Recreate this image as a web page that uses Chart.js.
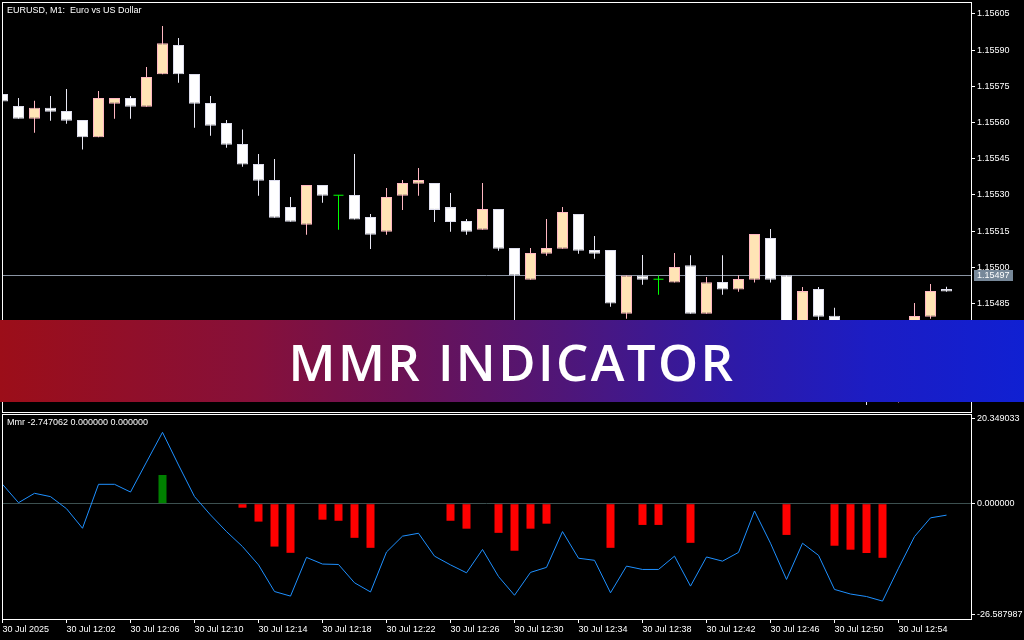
<!DOCTYPE html>
<html>
<head>
<meta charset="utf-8">
<script src="https://cdn.jsdelivr.net/npm/chart.js@4.4.1/dist/chart.umd.min.js"></script>
<style>
  html, body { margin: 0; padding: 0; background: #000; }
  #wrap { position: relative; width: 1024px; height: 640px; overflow: hidden; background: #000; }
  #priceBox { position: absolute; left: 0; top: 0; width: 1024px; height: 414px; }
  #mmrBox { position: absolute; left: 0; top: 414px; width: 1024px; height: 226px; }
  #banner {
    position: absolute; left: 0; top: 320px; width: 1024px; height: 82px;
    background: linear-gradient(90deg, #9c0e19 0%, #86103a 25%, #6a1256 40%, #4f1678 55%, #2d1aa8 72%, #1c1dc4 85%, #1020d2 100%);
    display: flex; align-items: center; justify-content: center;
    color: #fff; font-family: "Open Sans", sans-serif; font-weight: 600; font-size: 51px; letter-spacing: 2.4px;
  }
</style>
</head>
<body>
<div id="wrap">
  <div id="priceBox"><canvas id="priceChart" width="1024" height="414"></canvas></div>
  <div id="mmrBox"><canvas id="mmrChart" width="1024" height="226"></canvas></div>
  <div id="banner">MMR INDICATOR</div>
</div>
<script>
// チャートのテキスト
const chartTitle = 'EURUSD, M1:  Euro vs US Dollar';
const mmrTitle = 'Mmr -2.747062 0.000000 0.000000';

// 時間軸ラベル (4本ごと)
const timeTickIdx = [0, 4, 8, 12, 16, 20, 24, 28, 32, 36, 40, 44, 48, 52, 56];
const timeLabels = ['30 Jul 2025', '30 Jul 12:02', '30 Jul 12:06', '30 Jul 12:10', '30 Jul 12:14',
  '30 Jul 12:18', '30 Jul 12:22', '30 Jul 12:26', '30 Jul 12:30', '30 Jul 12:34',
  '30 Jul 12:38', '30 Jul 12:42', '30 Jul 12:46', '30 Jul 12:50', '30 Jul 12:54'];

// ローソク足 OHLC
const opens = [1.155719, 1.155669, 1.155616, 1.155661, 1.155648, 1.155611, 1.155539, 1.155678, 1.155702, 1.155666,
  1.155800, 1.155922, 1.155801, 1.155681, 1.155598, 1.155511, 1.155428, 1.155362, 1.155250, 1.155177,
  1.155341, 1.155299, 1.155300, 1.155209, 1.155148, 1.155297, 1.155347, 1.155350, 1.155250, 1.155192,
  1.155156, 1.155242, 1.155080, 1.154949, 1.155057, 1.155077, 1.155221, 1.155072, 1.155072, 1.154808,
  1.154966, 1.154951, 1.154937, 1.155009, 1.154808, 1.154939, 1.154908, 1.154949, 1.155122, 1.154967,
  1.154678, 1.154910, 1.154800, 1.154658, 1.154554, 1.154485, 1.154465, 1.154650, 1.154796, 1.154910];
const highs = [1.155719, 1.155702, 1.155690, 1.155710, 1.155739, 1.155611, 1.155731, 1.155702, 1.155710, 1.155830,
  1.156000, 1.155951, 1.155801, 1.155710, 1.155611, 1.155571, 1.155470, 1.155449, 1.155292, 1.155341,
  1.155341, 1.155299, 1.155470, 1.155221, 1.155329, 1.155362, 1.155412, 1.155350, 1.155308, 1.155201,
  1.155350, 1.155242, 1.155080, 1.155080, 1.155201, 1.155250, 1.155221, 1.155130, 1.155072, 1.154966,
  1.155051, 1.154966, 1.155060, 1.155050, 1.154960, 1.155050, 1.154967, 1.155138, 1.155159, 1.154967,
  1.154919, 1.154919, 1.154833, 1.154678, 1.154566, 1.154510, 1.154620, 1.154852, 1.154931, 1.154920];
const lows = [1.155687, 1.155616, 1.155558, 1.155608, 1.155595, 1.155488, 1.155539, 1.155616, 1.155616, 1.155666,
  1.155800, 1.155765, 1.155579, 1.155546, 1.155496, 1.155417, 1.155297, 1.155206, 1.155189, 1.155135,
  1.155268, 1.155156, 1.155198, 1.155076, 1.155135, 1.155238, 1.155297, 1.155188, 1.155148, 1.155135,
  1.155156, 1.155069, 1.154720, 1.154949, 1.155048, 1.155077, 1.155057, 1.155036, 1.154837, 1.154787,
  1.154928, 1.154887, 1.154937, 1.154808, 1.154808, 1.154887, 1.154899, 1.154937, 1.154937, 1.154678,
  1.154658, 1.154761, 1.154616, 1.154533, 1.154430, 1.154459, 1.154440, 1.154630, 1.154787, 1.154899];
const closes = [1.155687, 1.155616, 1.155661, 1.155645, 1.155608, 1.155539, 1.155702, 1.155702, 1.155666, 1.155789,
  1.155929, 1.155800, 1.155678, 1.155587, 1.155508, 1.155426, 1.155359, 1.155206, 1.155189, 1.155341,
  1.155297, 1.155299, 1.155198, 1.155135, 1.155292, 1.155350, 1.155362, 1.155238, 1.155188, 1.155148,
  1.155242, 1.155077, 1.154966, 1.155060, 1.155080, 1.155230, 1.155069, 1.155057, 1.154850, 1.154966,
  1.154949, 1.154951, 1.155002, 1.154808, 1.154938, 1.154908, 1.154952, 1.155138, 1.154949, 1.154699,
  1.154902, 1.154796, 1.154658, 1.154554, 1.154471, 1.154465, 1.154600, 1.154799, 1.154902, 1.154900];

// 価格軸
const priceTicks = [1.15605, 1.15590, 1.15575, 1.15560, 1.15545, 1.15530, 1.15515, 1.15500, 1.15485, 1.15470, 1.15455];
const bidPrice = 1.15497;

// MMR インジケーター
const mmrLine = [4.66, 0.24, 2.5, 1.7, -1.2, -5.9, 4.66, 4.66, 2.8, 10.0,
  17.15, 9.3, 1.7, -2.7, -6.7, -10.3, -14.7, -21.1, -22.2, -12.9,
  -14.5, -14.6, -19.0, -21.2, -11.6, -7.8, -7.1, -12.6, -14.7, -16.6,
  -11.0, -17.5, -22.0, -16.5, -15.3, -6.7, -13.1, -13.6, -21.4, -15.0,
  -15.8, -15.8, -12.6, -19.8, -12.8, -13.8, -11.7, -1.75, -9.5, -18.2,
  -9.5, -12.4, -20.6, -21.7, -22.3, -23.4, -15.5, -7.9, -3.4, -2.75];
const mmrHist = [null, null, null, null, null, null, null, null, null, null,
  6.9, null, null, null, null, -0.96, -4.3, -10.3, -11.8, null,
  -3.84, -4.1, -8.2, -10.6, null, null, null, null, -4.1, -6.0,
  null, -7.0, -11.3, -6.0, -4.8, null, null, null, -10.6, null,
  -5.1, -5.1, null, -9.4, null, null, null, null, null, -7.5,
  null, null, -10.1, -11.05, -11.85, -13.0, null, null, null, null];
const mmrTicks = [20.349033, 0, -26.587987];

// 色
const BULL_FILL = '#ffe4b5', BULL_LINE = '#ffb6c1';
const BEAR_FILL = '#ffffff', BEAR_LINE = '#dcdcec';
const DOJI = '#00ff00';

Chart.defaults.font.family = '"Liberation Sans", Arial, sans-serif';
Chart.defaults.font.size = 9;
Chart.defaults.color = '#ffffff';

const idx = opens.map((_, i) => i);
const isDoji = i => opens[i] === closes[i];
const isBull = i => closes[i] > opens[i];

// x軸: 1本=16px
const X_MIN = -0.03125, X_MAX = 60.53125;

function fixWidth(w) {
    return scale => { scale.width = w; scale.paddingTop = 0; scale.paddingBottom = 0; };
}

const framePlugin = {
    id: 'frame',
    afterDraw(chart, args, opts) {
        const a = chart.chartArea, ctx = chart.ctx;
        ctx.save();
        ctx.strokeStyle = '#ffffff';
        ctx.lineWidth = 1;
        ctx.strokeRect(Math.round(a.left) + 0.5, Math.round(a.top) + 0.5,
            Math.round(a.right - a.left), Math.round(a.bottom - a.top));
        if (opts.title) {
            ctx.font = '9px "Liberation Sans", Arial, sans-serif';
            ctx.fillStyle = '#ffffff';
            ctx.textBaseline = 'middle';
            ctx.fillText(opts.title, a.left + 5, a.top + 8.5);
        }
        ctx.restore();
    }
};

const bidPlugin = {
    id: 'bid',
    beforeDatasetsDraw(chart) {
        const y = Math.round(chart.scales.y.getPixelForValue(bidPrice)) + 0.5;
        const a = chart.chartArea, ctx = chart.ctx;
        ctx.save();
        ctx.strokeStyle = '#8a94a3';
        ctx.lineWidth = 1;
        ctx.beginPath();
        ctx.moveTo(a.left, y);
        ctx.lineTo(a.right, y);
        ctx.stroke();
        ctx.restore();
    },
    afterDraw(chart) {
        const y = Math.round(chart.scales.y.getPixelForValue(bidPrice));
        const a = chart.chartArea, ctx = chart.ctx;
        ctx.save();
        ctx.fillStyle = '#778899';
        ctx.fillRect(a.right + 3, y - 5, 39, 11);
        ctx.fillStyle = '#ffffff';
        ctx.font = '9px "Liberation Sans", Arial, sans-serif';
        ctx.textBaseline = 'middle';
        ctx.fillText(bidPrice.toFixed(5), a.right + 6, y + 0.5);
        ctx.restore();
    }
};

// 価格チャート
new Chart(document.getElementById('priceChart'), {
    type: 'bar',
    data: {
        datasets: [
            {
                label: 'wick',
                order: 3,
                data: idx.map(i => ({x: i, y: [lows[i], highs[i]]})),
                backgroundColor: idx.map(i => isDoji(i) ? DOJI : (isBull(i) ? BULL_LINE : '#e8e8f4')),
                borderWidth: 0,
                barThickness: 1,
                inflateAmount: 0,
                grouped: false
            },
            {
                label: 'body',
                order: 2,
                data: idx.map(i => ({x: i, y: isDoji(i) ? null : [Math.min(opens[i], closes[i]), Math.max(opens[i], closes[i])]})),
                backgroundColor: idx.map(i => isBull(i) ? BULL_FILL : BEAR_FILL),
                borderColor: idx.map(i => isBull(i) ? BULL_LINE : BEAR_LINE),
                borderWidth: 1,
                borderSkipped: false,
                barThickness: 11,
                inflateAmount: 0,
                grouped: false
            },
            {
                type: 'line',
                label: 'doji',
                order: 1,
                data: idx.filter(isDoji).map(i => ({x: i, y: opens[i]})),
                showLine: false,
                pointStyle: 'line',
                pointRadius: 5,
                pointBorderColor: DOJI,
                pointBorderWidth: 1
            }
        ]
    },
    options: {
        responsive: false,
        animation: false,
        events: [],
        layout: { autoPadding: false, padding: { left: 2, top: 2, right: 0, bottom: 2 } },
        plugins: { legend: { display: false }, tooltip: { enabled: false }, frame: { title: chartTitle } },
        scales: {
            x: { type: 'linear', min: X_MIN, max: X_MAX, display: false, offset: false, grid: { offset: false } },
            y: {
                type: 'linear', position: 'right',
                min: 1.1544008, max: 1.1560997,
                afterBuildTicks: s => { s.ticks = priceTicks.map(v => ({value: v})); },
                afterFit: fixWidth(53),
                ticks: { color: '#ffffff', padding: 2, callback: v => v.toFixed(5) },
                grid: { drawOnChartArea: false, tickLength: 4, color: '#ffffff' },
                border: { color: '#ffffff' }
            }
        }
    },
    plugins: [framePlugin, bidPlugin]
});

// MMR サブウィンドウ
new Chart(document.getElementById('mmrChart'), {
    type: 'bar',
    data: {
        datasets: [
            {
                type: 'line',
                label: 'Mmr',
                order: 1,
                data: idx.map(i => ({x: i, y: mmrLine[i]})),
                borderColor: '#1e90ff',
                borderWidth: 1,
                pointRadius: 0,
                tension: 0
            },
            {
                label: 'hist',
                order: 2,
                data: idx.map(i => ({x: i, y: mmrHist[i]})),
                backgroundColor: idx.map(i => mmrHist[i] > 0 ? '#008000' : '#ff0000'),
                borderWidth: 0,
                barThickness: 8,
                inflateAmount: 0
            }
        ]
    },
    options: {
        responsive: false,
        animation: false,
        events: [],
        layout: { autoPadding: false, padding: { left: 2, top: 0, right: 0, bottom: 0 } },
        plugins: { legend: { display: false }, tooltip: { enabled: false }, frame: { title: mmrTitle } },
        scales: {
            x: {
                type: 'linear', min: X_MIN, max: X_MAX, offset: false,
                afterBuildTicks: s => { s.ticks = timeTickIdx.map(v => ({value: v})); },
                afterFit: s => { s.height = 21; s.paddingLeft = 0; s.paddingRight = 0; },
                ticks: { color: '#ffffff', align: 'start', padding: 1, autoSkip: false, maxRotation: 0,
                    callback: (v, i) => timeLabels[i] },
                grid: { drawOnChartArea: false, offset: false, tickLength: 4, color: '#ffffff' },
                border: { color: '#ffffff' }
            },
            y: {
                type: 'linear', position: 'right',
                min: -27.70, max: 21.55,
                afterBuildTicks: s => { s.ticks = mmrTicks.map(v => ({value: v})); },
                afterFit: fixWidth(53),
                ticks: { color: '#ffffff', padding: 2, callback: v => v.toFixed(6) },
                grid: {
                    drawOnChartArea: true, tickLength: 4, tickColor: '#ffffff',
                    color: c => (c.tick && c.tick.value === 0) ? '#3c5050' : 'rgba(0,0,0,0)'
                },
                border: { color: '#ffffff' }
            }
        }
    },
    plugins: [framePlugin]
});
</script>
</body>
</html>
